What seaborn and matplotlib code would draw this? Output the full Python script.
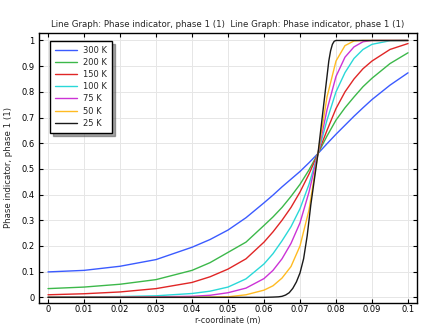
import numpy as np
import pandas as pd
import matplotlib
matplotlib.use("Agg")
import matplotlib.pyplot as plt
import seaborn as sns

labels = ["300 K", "200 K", "150 K", "100 K", "75 K", "50 K", "25 K"]
colors = ["#3b5bff", "#3cb84a", "#e02626", "#2ad8d8", "#cc33d6", "#ffbb22", "#1a1a1a"]

x_common = [0, 0.01, 0.02, 0.03, 0.04, 0.045, 0.05, 0.055, 0.06, 0.0625, 0.065,
            0.0675, 0.07, 0.0725, 0.075, 0.0775, 0.08, 0.0825, 0.085, 0.0875,
            0.09, 0.095, 0.1]

y_300 = [0.099, 0.105, 0.121, 0.147, 0.195, 0.225, 0.262, 0.31, 0.368, 0.398, 0.43,
         0.46, 0.49, 0.524, 0.56, 0.598, 0.635, 0.67, 0.705, 0.738,
         0.77, 0.826, 0.874]
y_200 = [0.034, 0.040, 0.051, 0.069, 0.105, 0.135, 0.175, 0.215, 0.28, 0.313, 0.35,
         0.393, 0.44, 0.496, 0.56, 0.628, 0.69, 0.738, 0.78, 0.82,
         0.853, 0.91, 0.952]
y_150 = [0.010, 0.014, 0.021, 0.034, 0.058, 0.08, 0.11, 0.15, 0.215, 0.255, 0.30,
         0.35, 0.41, 0.48, 0.56, 0.65, 0.735, 0.8, 0.85, 0.89,
         0.92, 0.965, 0.988]
y_100 = [0.001, 0.002, 0.003, 0.006, 0.015, 0.024, 0.04, 0.072, 0.13, 0.17, 0.22,
         0.275, 0.345, 0.44, 0.56, 0.69, 0.80, 0.875, 0.93, 0.965,
         0.985, 0.999, 1.0]
y_75 = [0.0, 0.0005, 0.001, 0.002, 0.004, 0.008, 0.018, 0.036, 0.073, 0.105, 0.15,
        0.21, 0.29, 0.41, 0.56, 0.73, 0.86, 0.935, 0.975, 0.995,
        1.0, 1.0, 1.0]
y_50 = [0.0, 0.0, 0.0, 0.0, 0.0, 0.001, 0.002, 0.01, 0.028, 0.045, 0.075,
        0.12, 0.20, 0.34, 0.56, 0.78, 0.92, 0.98, 0.998, 1.0,
        1.0, 1.0, 1.0]
x_25 = [0, 0.01, 0.02, 0.03, 0.04, 0.05, 0.06, 0.0625, 0.064, 0.065, 0.066, 0.067,
        0.068, 0.069, 0.07, 0.071, 0.072, 0.073, 0.074, 0.075, 0.076, 0.077,
        0.0775, 0.078, 0.0785, 0.079, 0.0795, 0.08, 0.09, 0.1]
y_25 = [0, 0, 0, 0, 0, 0, 0, 0.001, 0.002, 0.004, 0.009, 0.018,
        0.035, 0.06, 0.095, 0.15, 0.24, 0.36, 0.46, 0.56, 0.68, 0.8,
        0.86, 0.92, 0.96, 0.985, 0.997, 1.0, 1.0, 1.0]

series = [(x_common, y_300), (x_common, y_200), (x_common, y_150), (x_common, y_100),
          (x_common, y_75), (x_common, y_50), (x_25, y_25)]
frames = []
for lab, (xs, ys) in zip(labels, series):
    frames.append(pd.DataFrame({"x": xs, "y": ys, "T": lab}))
df = pd.concat(frames, ignore_index=True)

sns.set_theme(style="white")
plt.rcParams["font.family"] = ["DejaVu Sans"]

fig = plt.figure(figsize=(4.27, 3.24), dpi=100)
ax_bottom = 303
ax_top = 32.5
ax = fig.add_axes([39 / 427, 1 - ax_bottom / 324, (417 - 39) / 427, (ax_bottom - ax_top) / 324])

sns.lineplot(data=df, x="x", y="y", hue="T", hue_order=labels,
             palette=dict(zip(labels, colors)), ax=ax, linewidth=1.0,
             sort=False, estimator=None)

ax.set_xlim(-0.0025, 0.1025)
ax.set_ylim(-0.022, 1.031)
xt = np.round(np.arange(0, 0.1001, 0.01), 2)
ax.set_xticks(xt)
ax.set_xticklabels(["0"] + [f"{v:g}" for v in xt[1:]])
yt = np.round(np.arange(0, 1.001, 0.1), 1)
ax.set_yticks(yt)
ax.set_yticklabels(["0"] + [f"{v:g}" for v in yt[1:-1]] + ["1"])
ax.grid(True, color="#e6e6e6", linewidth=0.7)
ax.tick_params(direction="in", length=3, width=0.8, labelsize=6, colors="black",
               top=True, right=True, bottom=True, left=True, pad=3)
ax.tick_params(axis="x", pad=1.5)
for sp in ax.spines.values():
    sp.set_color("black")
    sp.set_linewidth(1.0)

ax.set_xlabel("r-coordinate (m)", fontsize=5.8)
ax.xaxis.set_label_coords(0.5, -(315.5 - ax_bottom) / (ax_bottom - ax_top))
ax.set_ylabel("Phase indicator, phase 1 (1)", fontsize=6.2, labelpad=6)
ax.set_title("Line Graph: Phase indicator, phase 1 (1)  Line Graph: Phase indicator, phase 1 (1)",
             fontsize=6.2, pad=4)

leg = ax.legend(loc="upper left", bbox_to_anchor=(0.018, 0.985), fontsize=6,
                frameon=True, fancybox=False, shadow=True, handlelength=2.6,
                borderpad=0.6, labelspacing=0.38, handletextpad=0.8)
leg.get_frame().set_edgecolor("black")
leg.get_frame().set_linewidth(1.0)

fig.savefig("out.png", dpi=100)
